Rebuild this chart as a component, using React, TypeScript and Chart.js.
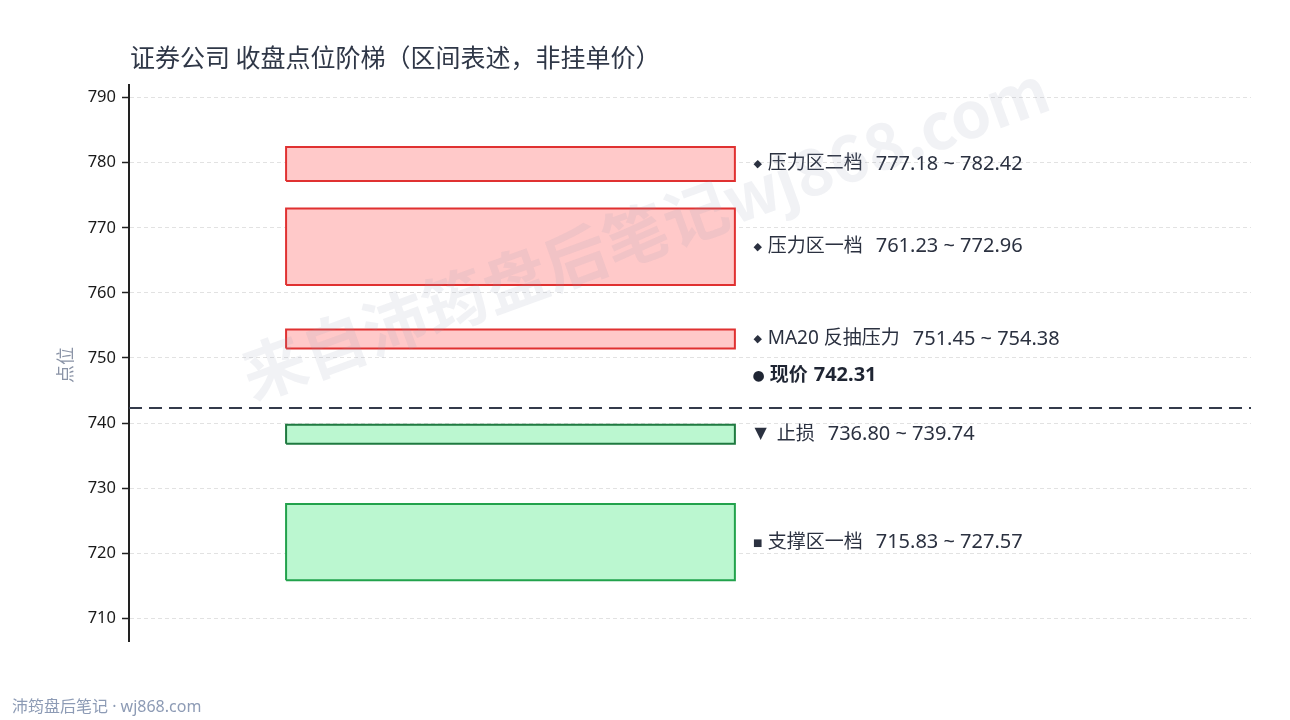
import React, { useEffect, useRef } from "react";
import { Chart, registerables } from "chart.js";

Chart.register(...registerables);

// ---- data ----
const zoneNames = ["压力区二档", "压力区一档", "MA20 反抽压力", "止损", "支撑区一档"];
const zoneLow = [777.18, 761.23, 751.45, 736.8, 715.83];
const zoneHigh = [782.42, 772.96, 754.38, 739.74, 727.57];
const zoneMarkers = ["◆", "◆", "◆", "▼", "■"];
const zoneFill = ["#ffc9c9", "#ffc9c9", "#ffc9c9", "#bbf7d0", "#bbf7d0"];
const zoneBorder = ["#e03131", "#e03131", "#e03131", "#1f7a40", "#22a24c"];
const currentPriceLabel = "现价";
const currentPrice = 742.31;
const yTickValues = [710, 720, 730, 740, 750, 760, 770, 780, 790];
const yMin = 706.5;
const yMax = 791.95;
const barStartX = 0.14;
const barEndX = 0.54;
const labelX = 0.555;
const titleText = "证券公司 收盘点位阶梯（区间表述，非挂单价）";
const yAxisTitle = "点位";
const footerText = "沛筠盘后笔记 · wj868.com";
const watermarkText = "来自沛筠盘后笔记wj868.com";

const CJK = '"Noto Sans CJK SC", "Noto Sans", sans-serif';
const MIX = '"Noto Sans", "Noto Sans CJK SC", sans-serif';

const fmt = (v: number) => v.toFixed(2);

const textPlugin = {
  id: "ladderText",
  afterDraw(chart: any) {
    const ctx: CanvasRenderingContext2D = chart.ctx;
    const xs = chart.scales.x;
    const ys = chart.scales.y;
    const area = chart.chartArea;
    ctx.save();
    // title
    ctx.fillStyle = "#2f3747";
    ctx.font = `25px ${CJK}`;
    ctx.textAlign = "left";
    ctx.textBaseline = "middle";
    ctx.fillText(titleText, area.left + 1, 57);

    // y axis title
    ctx.save();
    ctx.translate(65, (area.top + area.bottom) / 2 + 2);
    ctx.rotate(-Math.PI / 2);
    ctx.fillStyle = "#8a93a6";
    ctx.font = `18px ${CJK}`;
    ctx.textAlign = "center";
    ctx.textBaseline = "middle";
    ctx.fillText(yAxisTitle, 0, 0);
    ctx.restore();

    // zone labels
    const lx = xs.getPixelForValue(labelX);
    zoneNames.forEach((name, i) => {
      const py = ys.getPixelForValue((zoneLow[i] + zoneHigh[i]) / 2);
      const m = zoneMarkers[i];
      ctx.fillStyle = "#2b3140";
      ctx.textBaseline = "middle";
      ctx.textAlign = "center";
      let tx = lx + 16;
      if (m === "◆") {
        ctx.font = `11px "DejaVu Sans"`;
        ctx.fillText(m, lx + 6, py);
      } else if (m === "■") {
        ctx.font = `10px "DejaVu Sans"`;
        ctx.fillText(m, lx + 6, py + 1);
      } else {
        ctx.font = `16px "DejaVu Sans"`;
        ctx.fillText(m, lx + 9, py);
        tx = lx + 25;
      }
      ctx.textAlign = "left";
      ctx.font = `19px ${MIX}`;
      ctx.fillText(name, tx, py);
      const w = ctx.measureText(name).width;
      ctx.font = `20px ${MIX}`;
      ctx.fillText(`${fmt(zoneLow[i])} ~ ${fmt(zoneHigh[i])}`, tx + w + 13, py);
    });

    // current price label
    const cy = ys.getPixelForValue(currentPrice + 5);
    ctx.fillStyle = "#1f2533";
    ctx.textAlign = "center";
    ctx.font = `14px "DejaVu Sans"`;
    ctx.fillText("●", lx + 7, cy + 1);
    ctx.textAlign = "left";
    ctx.font = `bold 19px ${MIX}`;
    ctx.fillText(currentPriceLabel, lx + 18, cy);
    const cw = ctx.measureText(currentPriceLabel).width;
    ctx.font = `bold 20px ${MIX}`;
    ctx.fillText(fmt(currentPrice), lx + 18 + cw + 6, cy);

    // footer
    ctx.fillStyle = "#8d9bb5";
    ctx.font = `16px ${MIX}`;
    ctx.textAlign = "left";
    ctx.textBaseline = "middle";
    ctx.fillText(footerText, 12, 707);

    // watermark
    ctx.save();
    ctx.translate(645, 232);
    ctx.rotate((-20 * Math.PI) / 180);
    ctx.fillStyle = "rgba(145, 155, 175, 0.13)";
    ctx.font = `bold 64px ${CJK}`;
    ctx.textAlign = "center";
    ctx.textBaseline = "middle";
    ctx.fillText(watermarkText, 0, 0);
    ctx.restore();

    ctx.restore();
  },
};

export default function App() {
  const ref = useRef<HTMLCanvasElement | null>(null);
  useEffect(() => {
    document.body.style.margin = "0";
    const canvas = ref.current;
    if (!canvas) return;
    const datasets: any[] = zoneNames.map((name, i) => ({
      label: name,
      data: [
        { x: barStartX, y: zoneLow[i] },
        { x: barEndX, y: zoneLow[i] },
        { x: barEndX, y: zoneHigh[i] },
        { x: barStartX, y: zoneHigh[i] },
        { x: barStartX, y: zoneLow[i] },
      ],
      fill: "shape",
      backgroundColor: zoneFill[i],
      borderColor: zoneBorder[i],
      borderWidth: 2,
      borderJoinStyle: "miter",
      pointRadius: 0,
      tension: 0,
    }));
    datasets.push({
      label: currentPriceLabel,
      data: [
        { x: 0, y: currentPrice },
        { x: 1, y: currentPrice },
      ],
      fill: false,
      borderColor: "#343b4b",
      borderWidth: 2,
      borderDash: [13, 7],
      pointRadius: 0,
    });
    const chart = new Chart(canvas, {
      type: "line",
      data: { datasets },
      options: {
        animation: false,
        responsive: false,
        devicePixelRatio: 1,
        layout: { padding: { left: 0, top: 85, right: 39, bottom: 79 } },
        plugins: {
          legend: { display: false },
          title: { display: false },
          tooltip: { enabled: false },
        },
        scales: {
          x: { type: "linear", min: 0, max: 1, display: false },
          y: {
            type: "linear",
            min: yMin,
            max: yMax,
            afterFit: (s: any) => {
              s.width = 129;
            },
            afterBuildTicks: (s: any) => {
              s.ticks = yTickValues.map((v) => ({ value: v }));
            },
            ticks: {
              includeBounds: false,
              color: "#1a1a1a",
              font: { family: '"Noto Sans", sans-serif', size: 16.5 },
              padding: 6,
            },
            grid: {
              color: "#e2e2e2",
              lineWidth: 1,
              tickColor: "#222222",
              tickLength: 7,
              tickWidth: 1.5,
              tickBorderDash: [],
            },
            border: { color: "#222222", width: 2, dash: [4, 3] },
          },
        },
      },
      plugins: [textPlugin],
    });
    return () => chart.destroy();
  }, []);
  return (
    <div style={{ position: "absolute", left: 0, top: 0, width: 1290, height: 720, background: "#fff" }}>
      <canvas ref={ref} width={1290} height={720} />
    </div>
  );
}
